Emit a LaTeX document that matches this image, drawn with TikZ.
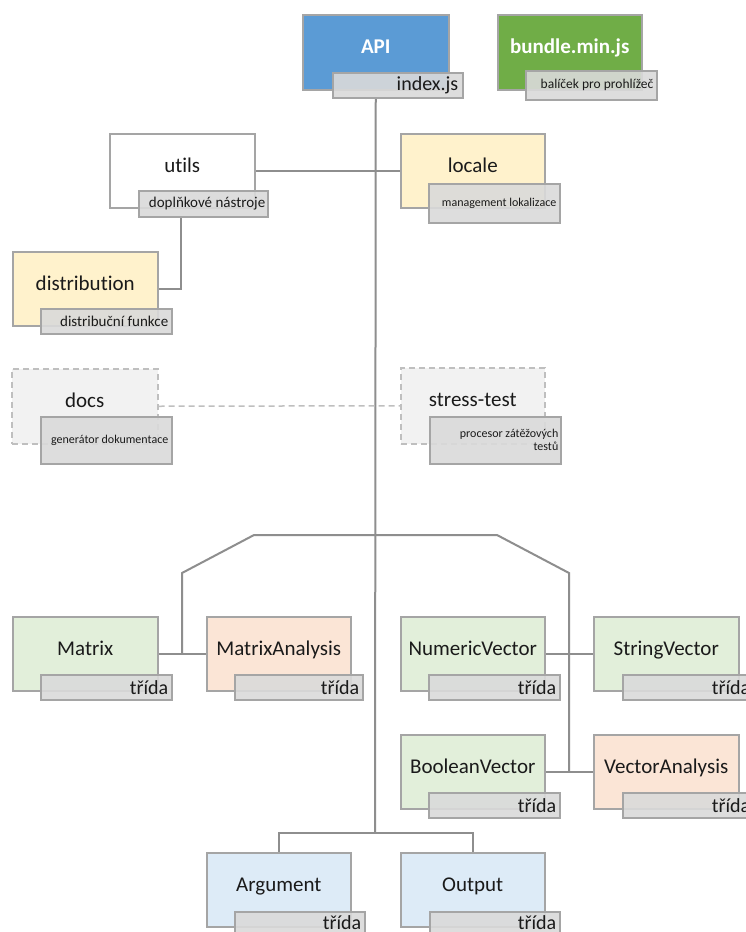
\documentclass[tikz,border=0pt]{standalone}
\usepackage{fontspec}
\setmainfont{Carlito}[Ligatures=NoCommon]
\usetikzlibrary{backgrounds}

\definecolor{boxline}{HTML}{A5A5A5}
\definecolor{connline}{HTML}{8E8E8E}
\definecolor{dashline}{HTML}{BFBFBF}
\definecolor{apiblue}{HTML}{5B9BD5}
\definecolor{bundlegreen}{HTML}{70AD47}
\definecolor{modyellow}{HTML}{FFF2CC}
\definecolor{optgray}{HTML}{F2F2F2}
\definecolor{clsgreen}{HTML}{E2EFDA}
\definecolor{clsorange}{HTML}{FBE5D6}
\definecolor{clsblue}{HTML}{DDEBF7}
\definecolor{subfill}{HTML}{DADADA}
\definecolor{txt}{HTML}{1A1A1A}

\pgfdeclarelayer{canvas}
\pgfsetlayers{canvas,background,main}

\tikzset{
  mbox/.style={draw=boxline, line width=1.5pt, inner sep=0pt, anchor=north west},
  optbox/.style={mbox, draw=dashline, dash pattern=on 6pt off 4pt, fill=optgray},
  subbox/.style={draw=boxline, line width=1.5pt, fill=subfill, fill opacity=0.9,
    inner sep=0pt, anchor=north west, minimum width=131pt},
  title/.style={anchor=base, inner sep=0pt, text=txt, font=\fontsize{21}{25}\selectfont},
  wtitle/.style={title, text=white, font=\fontsize{21}{25}\selectfont\bfseries},
  subtxt/.style={anchor=east, inner sep=0pt, text=txt, align=right},
  big/.style={font=\fontsize{20}{24}\selectfont},
  mid/.style={font=\fontsize{15}{18}\selectfont},
  small/.style={font=\fontsize{13.5}{16}\selectfont},
  tiny/.style={font=\fontsize{12}{13}\selectfont},
  conn/.style={draw=connline, line width=2pt},
  dconn/.style={draw=dashline, line width=1.5pt, dash pattern=on 6pt off 4pt},
}

% box with its sub-label: name, style, x, y, w, h
\newcommand\modnode[6]{\node[mbox,#2,minimum width=#5pt,minimum height=#6pt] (#1) at (#3,#4) {};}

\begin{document}
\begin{tikzpicture}[x=1pt,y=-1pt]
\begin{pgfonlayer}{canvas}
  \fill[white] (0,0) rectangle (746,932);
\end{pgfonlayer}
\useasboundingbox (0,0) rectangle (746,932);
\clip (0,0) rectangle (746,932);

% ---------- top: entry points ----------
\modnode{api}{fill=apiblue}{302}{14}{146}{75}
\node[wtitle] (api-t) at ([yshift=-39pt]api.north) {API};
\node[subbox,minimum height=25pt,minimum width=130pt] (api-s) at (332,72) {};
\node[subtxt,big] (api-st) at ([xshift=-5pt]api-s.east) {index.js};

\modnode{bundle}{fill=bundlegreen}{497}{14}{144}{75}
\node[wtitle] (bundle-t) at ([yshift=-39pt]bundle.north) {bundle.min.js};
\node[subbox,minimum height=29pt] (bundle-s) at (525,70) {};
\node[subtxt,small] (bundle-st) at ([xshift=-4pt]bundle-s.east) {balíček pro prohlížeč};

% ---------- helper modules ----------
\modnode{utils}{fill=white}{109}{133}{145}{74}
\node[title] (utils-t) at ([yshift=-39pt]utils.north) {utils};
\node[subbox,minimum height=26pt,minimum width=129pt] (utils-s) at (138,190) {};
\node[subtxt,mid] (utils-st) at ([xshift=-3pt]utils-s.east) {doplňkové nástroje};

\modnode{locale}{fill=modyellow}{400}{133}{144}{74}
\node[title] (locale-t) at ([yshift=-39pt]locale.north) {locale};
\node[subbox,minimum height=39pt] (locale-s) at (428,183) {};
\node[subtxt,tiny] (locale-st) at ([xshift=-4pt]locale-s.east) {management lokalizace};

\modnode{dist}{fill=modyellow}{12}{251}{145}{74}
\node[title] (dist-t) at ([yshift=-39pt]dist.north) {distribution};
\node[subbox,minimum height=25pt] (dist-s) at (40,308) {};
\node[subtxt,mid] (dist-st) at ([xshift=-4pt]dist-s.east) {distribuční funkce};

% ---------- optional tools ----------
\node[optbox,minimum width=146pt,minimum height=75pt] (docs) at (11,368) {};
\node[title] (docs-t) at ([yshift=-39pt]docs.north) {docs};
\node[subbox,minimum height=47pt] (docs-s) at (40,416) {};
\node[subtxt,tiny] (docs-st) at ([xshift=-4pt]docs-s.east) {generátor dokumentace};

\node[optbox,minimum width=144pt,minimum height=76pt] (stress) at (400,367) {};
\node[title] (stress-t) at ([yshift=-39pt]stress.north) {stress-test};
\node[subbox,minimum height=47pt] (stress-s) at (429,416) {};
\node[subtxt,tiny] (stress-st) at ([xshift=-3pt]stress-s.east) {procesor zátěžových\\testů};

% ---------- classes ----------
\modnode{matrix}{fill=clsgreen}{12}{616}{145}{74}
\node[title] (matrix-t) at ([yshift=-39pt]matrix.north) {Matrix};
\node[subbox,minimum height=25pt] (matrix-s) at (40,674) {};
\node[subtxt,big] (matrix-st) at ([xshift=-4pt]matrix-s.east) {třída};

\modnode{ma}{fill=clsorange}{206}{616}{144}{74}
\node[title] (ma-t) at ([yshift=-39pt]ma.north) {MatrixAnalysis};
\node[subbox,minimum height=25pt,minimum width=128pt] (ma-s) at (234,674) {};
\node[subtxt,big] (ma-st) at ([xshift=-4pt]ma-s.east) {třída};

\modnode{nv}{fill=clsgreen}{400}{616}{144}{74}
\node[title] (nv-t) at ([yshift=-39pt]nv.north) {NumericVector};
\node[subbox,minimum height=25pt] (nv-s) at (428,674) {};
\node[subtxt,big] (nv-st) at ([xshift=-4pt]nv-s.east) {třída};

\modnode{sv}{fill=clsgreen}{593}{616}{145}{74}
\node[title] (sv-t) at ([yshift=-39pt]sv.north) {StringVector};
\node[subbox,minimum height=25pt] (sv-s) at (622,674) {};
\node[subtxt,big] (sv-st) at ([xshift=-4pt]sv-s.east) {třída};

\modnode{bv}{fill=clsgreen}{400}{734}{144}{74}
\node[title] (bv-t) at ([yshift=-39pt]bv.north) {BooleanVector};
\node[subbox,minimum height=25pt] (bv-s) at (428,792) {};
\node[subtxt,big] (bv-st) at ([xshift=-4pt]bv-s.east) {třída};

\modnode{va}{fill=clsorange}{593}{734}{145}{74}
\node[title] (va-t) at ([yshift=-39pt]va.north) {VectorAnalysis};
\node[subbox,minimum height=25pt] (va-s) at (622,792) {};
\node[subtxt,big] (va-st) at ([xshift=-4pt]va-s.east) {třída};

\modnode{arg}{fill=clsblue}{206}{852}{144}{74}
\node[title] (arg-t) at ([yshift=-39pt]arg.north) {Argument};
\node[subbox,minimum height=25pt,minimum width=130pt] (arg-s) at (234,911) {};
\node[subtxt,big] (arg-st) at ([xshift=-4pt,yshift=2pt]arg-s.east) {třída};

\modnode{out}{fill=clsblue}{400}{852}{144}{74}
\node[title] (out-t) at ([yshift=-39pt]out.north) {Output};
\node[subbox,minimum height=25pt,minimum width=130pt] (out-s) at (429,911) {};
\node[subtxt,big] (out-st) at ([xshift=-4pt,yshift=2pt]out-s.east) {třída};

% ---------- connectors ----------
\coordinate (tb) at (375,833);
\coordinate (uk) at (181,0);
\coordinate (bl) at (254,535);
\coordinate (br) at (497,535);
\coordinate (dl) at (182,573);
\coordinate (dr) at (569,573);

\begin{pgfonlayer}{background}
  \draw[conn] (api.south |- api-s.south) -- (tb);
  \draw[conn] (utils.east) -- (locale.west);
  \draw[conn] (uk |- utils-s.south) |- (dist.east);
  \draw[dconn] (docs.east) -- (stress.west);
  \draw[conn] (matrix.east) -- (ma.west);
  \draw[conn] (dl |- ma.west) -- (dl) -- (bl) -- (br) -- (dr) -- (dr |- va.west);
  \draw[conn] (nv.east) -- (sv.west);
  \draw[conn] (bv.east) -- (va.west);
  \draw[conn] (arg.north) |- (tb) -| (out.north);
\end{pgfonlayer}
\end{tikzpicture}
\end{document}
